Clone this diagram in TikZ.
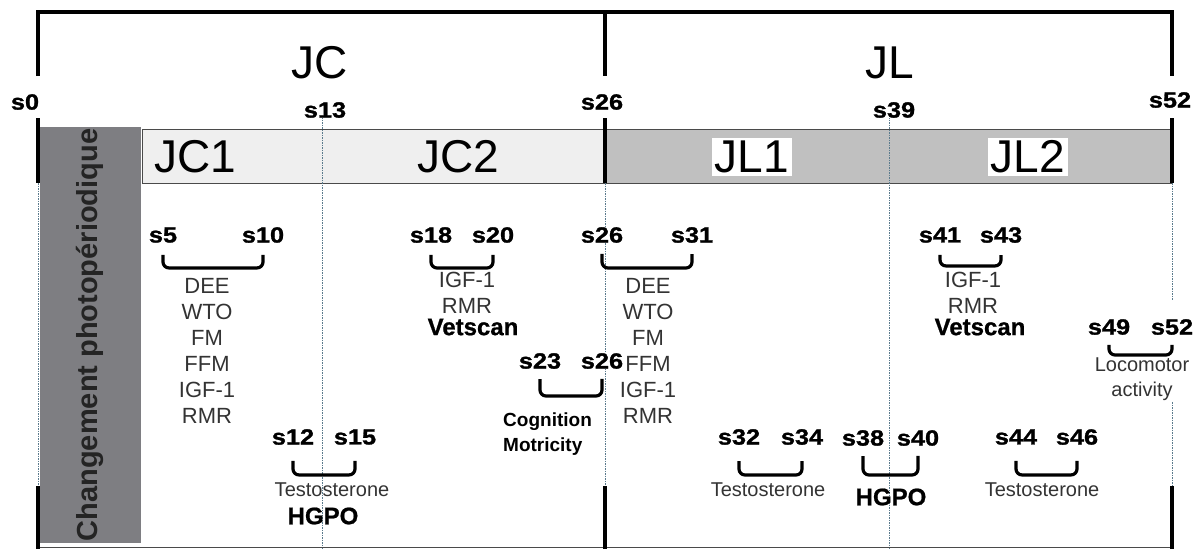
\documentclass[tikz,border=0pt]{standalone}
\usepackage{fontspec}
\setmainfont{Liberation Sans}
\newfontfamily\wkfont[FakeStretch=1.15,FakeBold=1.2]{Liberation Sans}
\newfontfamily\hlfont[FakeBold=0.8]{Liberation Sans}
\usetikzlibrary{calc}
\definecolor{bandlight}{HTML}{EFEFEF}
\definecolor{bandgray}{HTML}{C0C0C0}
\definecolor{bandedge}{HTML}{4A4A4A}
\definecolor{boxgray}{HTML}{7E7E82}
\definecolor{gridblue}{HTML}{5A7A8C}
\definecolor{textgray}{HTML}{333333}
\newcommand{\wkbrace}[4]{%
  \draw[brc] ([yshift=-#3pt]#1.south) |- ($(#1.south)!0.5!(#2.south)+(0,#4)$) -| ([yshift=-#3pt]#2.south);}
\begin{document}
\begin{tikzpicture}[x=1pt,y=-1pt,
  thk/.style={line width=4pt},
  grd/.style={draw=gridblue, line width=0.8pt, dash pattern=on 1.5pt off 1pt},
  wk/.style={inner sep=0pt, fill=white, font=\wkfont\bfseries\fontsize{22}{22}\selectfont},
  big/.style={inner sep=0pt, font=\fontsize{46}{46}\selectfont},
  lst/.style={inner sep=0pt, align=center, text=textgray, font=\fontsize{22}{26}\selectfont},
  hl/.style={inner sep=0pt, font=\hlfont\bfseries\fontsize{24}{24}\selectfont},
  tst/.style={inner sep=0pt, text=textgray, font=\fontsize{20}{20}\selectfont},
  brc/.style={line width=3.2pt, rounded corners=6pt}]
  \useasboundingbox (0,0) rectangle (1200,549);
  % bands and side box
  \filldraw[fill=bandlight, draw=bandedge] (142,129) rectangle (605,183);
  \filldraw[fill=bandgray, draw=bandedge] (605,129) rectangle (1172,183);
  \fill[boxgray] (40,127) rectangle (141,543);
  \node[rotate=90, text=textgray!70!black, font=\bfseries\fontsize{29}{29}\selectfont] (PH) at (90,335) {Changement photopériodique};
  % week lines
  \draw[grd] (38,183) -- (38,487);
  \draw[grd] (322,117) -- (322,549);
  \draw[grd] (605,183) -- (605,485);
  \draw[grd] (889,117) -- (889,549);
  \draw[grd] (1172,183) -- (1172,300);
  \draw[grd] (1172,402) -- (1172,485);
  \draw[bandedge] (38,547) -- (1172,547);
  \draw[thk] (38,76) -- (38,12) -- (1172,12) -- (1172,76);
  \draw[thk] (605,12) -- (605,76);
  \foreach \x in {38,605,1172} {
    \draw[thk] (\x,118) -- (\x,183);
    \draw[thk] (\x,486) -- (\x,549);
  }

  \node[big] (JC) at (320,63) {JC};
  \node[big] (JL) at (890,63) {JL};
  \node[big] (JC1) at (195,157) {JC1};
  \node[big] (JC2) at (458,157) {JC2};
  \node[big, fill=white, inner sep=3pt] (JL1) at (752,157) {JL1};
  \node[big, fill=white, inner sep=3pt] (JL2) at (1028,157) {JL2};

  \node[wk] (T0) at (25,102) {s0};
  \node[wk] (T13) at (325,110) {s13};
  \node[wk] (T26) at (602,102) {s26};
  \node[wk] (T39) at (894,110) {s39};
  \node[wk] (T52) at (1170,100) {s52};

  \node[wk] (S5) at (163,235) {s5};
  \node[wk] (S10) at (263,235) {s10};
  \node[wk] (S18) at (431,235) {s18};
  \node[wk] (S20) at (493,235) {s20};
  \node[wk] (S26b) at (602,235) {s26};
  \node[wk] (S31) at (692,235) {s31};
  \node[wk] (S41) at (940,235) {s41};
  \node[wk] (S43) at (1001,235) {s43};
  \node[wk] (S23) at (540,361) {s23};
  \node[wk] (S26a) at (602,361) {s26};
  \node[wk] (S49) at (1109,327) {s49};
  \node[wk] (S52b) at (1172,327) {s52};
  \node[wk] (S12) at (293,437) {s12};
  \node[wk] (S15) at (355,437) {s15};
  \node[wk] (S32) at (739,437) {s32};
  \node[wk] (S34) at (802,437) {s34};
  \node[wk] (S38) at (863,438) {s38};
  \node[wk] (S40) at (918,438) {s40};
  \node[wk] (S44) at (1016,437) {s44};
  \node[wk] (S46) at (1077,437) {s46};

  \wkbrace{S5}{S10}{12}{25}
  \wkbrace{S18}{S20}{12}{25}
  \wkbrace{S26b}{S31}{11}{25}
  \wkbrace{S41}{S43}{12}{23}
  \wkbrace{S23}{S26a}{10}{27}
  \wkbrace{S49}{S52b}{10}{20}
  \wkbrace{S12}{S15}{16}{30}
  \wkbrace{S32}{S34}{16}{30}
  \wkbrace{S38}{S40}{10}{29}
  \wkbrace{S44}{S46}{16}{30}

  \node[lst, anchor=north] (L1) at (207,278) {DEE\\WTO\\FM\\FFM\\IGF-1\\RMR};
  \node[lst, anchor=north] (L2) at (648,278) {DEE\\WTO\\FM\\FFM\\IGF-1\\RMR};
  \node[lst, anchor=north] (G1) at (467,272) {IGF-1\\RMR};
  \node[hl] (V1) at (473,327) {Vetscan};
  \node[lst, anchor=north] (G2) at (973,272) {IGF-1\\RMR};
  \node[hl] (V2) at (980,327) {Vetscan};
  \node[lst, anchor=north west, align=left, text=black, font=\bfseries\fontsize{19}{25}\selectfont] (CM) at (503,413) {Cognition\\Motricity};
  \node[lst, anchor=north, fill=white, font=\fontsize{20}{25}\selectfont] (LA) at (1142,358) {Locomotor\\activity};
  \node[tst] (TS1) at (332,490) {Testosterone};
  \node[tst] (TS2) at (768,490) {Testosterone};
  \node[tst] (TS3) at (1042,490) {Testosterone};
  \node[hl] (H1) at (323,516) {HGPO};
  \node[hl] (H2) at (891,497) {HGPO};
\end{tikzpicture}
\end{document}
